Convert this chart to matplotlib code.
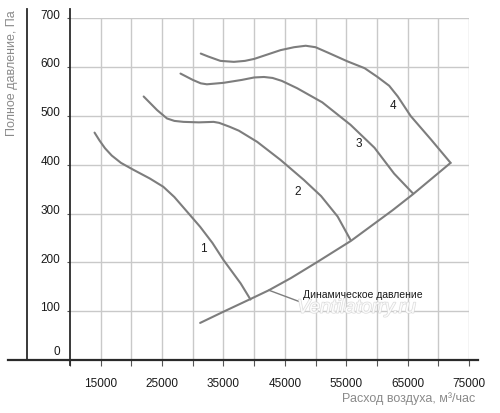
import matplotlib
matplotlib.use("Agg")
import matplotlib.pyplot as plt
from matplotlib.lines import Line2D
import matplotlib.patheffects as pe

plt.rcParams['font.family'] = ['Liberation Sans', 'DejaVu Sans']

# curve data (air flow m3/h, total pressure Pa)
c1_x = [14000, 14800, 15700, 16800, 18300, 20300, 23000, 25200, 27000, 29000, 31200, 33200, 35000, 37800, 39400]
c1_y = [466, 450, 434, 419, 404, 390, 372, 355, 334, 305, 273, 240, 205, 157, 124]

c2_x = [22000, 24200, 25800, 27000, 28500, 31000, 33400, 34300, 36000, 37500, 40500, 44300, 48100, 50900, 53600, 55700]
c2_y = [540, 512, 495, 490, 488, 487, 488, 486, 478, 470, 447, 410, 369, 336, 294, 246]

c3_x = [28000, 30000, 31300, 32300, 35000, 38000, 40000, 41600, 43000, 44500, 47000, 51100, 55700, 59600, 62800, 65900]
c3_y = [587, 574, 567, 565, 568, 574, 579, 580, 578, 572, 557, 528, 482, 435, 382, 341]

c4_x = [31300, 32500, 34500, 36700, 38500, 40000, 44300, 46500, 48400, 50000, 52000, 55200, 58000, 60100, 62000, 63400, 65500, 68800, 72000]
c4_y = [628, 622, 613, 611, 613, 617, 635, 641, 644, 641, 630, 612, 598, 580, 562, 540, 500, 452, 404]

dyn_x = [31200, 35000, 39400, 42400, 46000, 50300, 55750, 62560, 65900, 72000]
dyn_y = [76, 99, 125, 143, 168, 201, 244, 307, 340, 404]

curve_labels = ['1', '2', '3', '4']
label_x = [31700, 47100, 57100, 62600]
label_y = [227, 345, 443, 520]

xgrid = list(range(10000, 75001, 5000))
xtick_vals = [15000, 25000, 35000, 45000, 55000, 65000, 75000]
ytick_vals = [0, 100, 200, 300, 400, 500, 600, 700]

fig = plt.figure(figsize=(5, 4.13), dpi=100)
ax = fig.add_axes([0.14, 0.1283, 0.798, 0.8271])
ax.set_xlim(10000, 75000)
ax.set_ylim(0, 700)
for s in ax.spines.values():
    s.set_visible(False)

grid_col = '#c9c9c9'
for v in xgrid[1:]:
    ax.plot([v, v], [0, 700], color=grid_col, lw=1.0, zorder=1)
for v in ytick_vals[1:]:
    ax.plot([10000, 75000], [v, v], color=grid_col, lw=1.0, zorder=1)

ax.set_xticks(xgrid)
ax.set_xticklabels([str(v) if v in xtick_vals else '' for v in xgrid])
ax.set_yticks(ytick_vals)
ax.set_yticklabels([])
ax.tick_params(axis='x', length=4, width=0.8, color='#555555', pad=9, labelsize=8.5, labelcolor='#1a1a1a')
ax.tick_params(axis='y', length=2.5, width=0.8, color='#555555')

for v in ytick_vals:
    off = 6 if v == 0 else 2
    ax.annotate(str(v), xy=(0, v), xycoords=('axes fraction', 'data'),
                xytext=(-7, off), textcoords='offset points',
                ha='right', va='center', fontsize=8.5, color='#1a1a1a')

line_col = '#7d7d7d'
for xs, ys in [(c1_x, c1_y), (c2_x, c2_y), (c3_x, c3_y), (c4_x, c4_y), (dyn_x, dyn_y)]:
    ax.plot(xs, ys, color=line_col, lw=1.5, zorder=3, solid_capstyle='round', solid_joinstyle='round')

for t, lx, ly in zip(curve_labels, label_x, label_y):
    ax.text(lx, ly, t, fontsize=8.5, color='#1a1a1a', ha='center', va='center', zorder=4)

ax.plot([42400, 47300], [143, 120], color=line_col, lw=1.0, zorder=3)
ax.text(47900, 133, 'Динамическое давление', fontsize=7.5, color='#1a1a1a',
        ha='left', va='center', zorder=4)

ax.text(56700, 106, 'Ventilatorry.ru', fontsize=14, style='italic', color='white',
        ha='center', va='center', zorder=5, alpha=0.9,
        path_effects=[pe.withStroke(linewidth=1.0, foreground='#d8d8d8')])

# outer frame lines
dark = '#2a2a2a'
fig.add_artist(Line2D([0.016, 0.956], [0.1283, 0.1283], color=dark, lw=1.6, transform=fig.transFigure))
fig.add_artist(Line2D([0.14, 0.14], [0.116, 0.978], color=dark, lw=1.3, transform=fig.transFigure))
fig.add_artist(Line2D([0.054, 0.054], [0.1283, 0.978], color=dark, lw=1.3, transform=fig.transFigure))

fig.text(0.024, 0.976, 'Полное давление, Па', rotation=90, ha='center', va='top',
         fontsize=9, color='#8a8a8a')
fig.text(0.95, 0.036, 'Расход воздуха, м³/час', ha='right', va='center',
         fontsize=9, color='#8a8a8a')

fig.savefig('out.png', dpi=100)
